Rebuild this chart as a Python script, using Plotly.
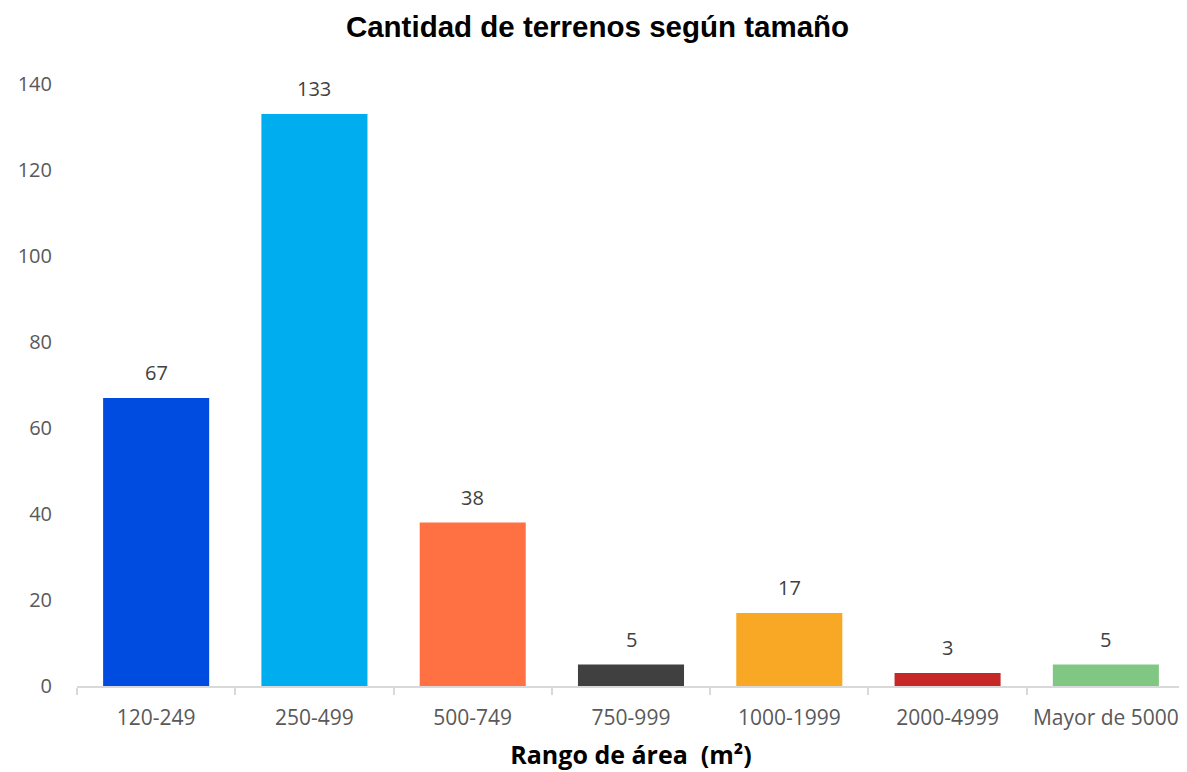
import plotly.graph_objects as go

rangos = ["120-249", "250-499", "500-749", "750-999", "1000-1999", "2000-4999", "Mayor de 5000"]
cantidad = [67, 133, 38, 5, 17, 3, 5]
colores = ["#004BE0", "#00AEEF", "#FF7043", "#404040", "#F9A825", "#C62828", "#81C784"]

fig = go.Figure(go.Bar(
    x=rangos, y=cantidad,
    marker=dict(color=colores, line=dict(width=0)),
))

# etiquetas de datos sobre cada barra
for r, c in zip(rangos, cantidad):
    fig.add_annotation(x=r, y=c, text=str(c), showarrow=False, yanchor="bottom", yshift=10,
                       font=dict(family="Open Sans", size=20, color="#404040"))

# la pagina tiene 8px de margen en body, se compensa aqui
fig.update_layout(
    width=1179, height=764,
    margin=dict(l=69, r=2, t=76, b=86),
    plot_bgcolor="white", paper_bgcolor="white",
    bargap=0.33,
    showlegend=False,
    title=dict(text="<b>Cantidad de terrenos según tamaño</b>", x=0.5, xanchor="center",
               y=0.976, yanchor="middle",
               font=dict(family="Liberation Sans, Arial", size=29.5, color="black")),
    font=dict(family="Open Sans", color="#595959"),
)
fig.update_xaxes(
    automargin=False,
    showline=True, linecolor="#D9D9D9", linewidth=2,
    ticks="outside", tickson="boundaries", tickcolor="#D9D9D9", ticklen=7, tickwidth=2,
    tickfont=dict(size=21, color="#595959"), ticklabelstandoff=12,
    title=dict(text="<b>Rango de área  (m²)</b>", standoff=16,
               font=dict(family="Open Sans", size=25, color="black")),
    showgrid=False,
)
fig.update_yaxes(
    automargin=False,
    range=[0, 140], dtick=20, showgrid=False, zeroline=False,
    tickfont=dict(size=20, color="#595959"), ticks="", ticklabelstandoff=24,
)

fig.write_html("out.html")
